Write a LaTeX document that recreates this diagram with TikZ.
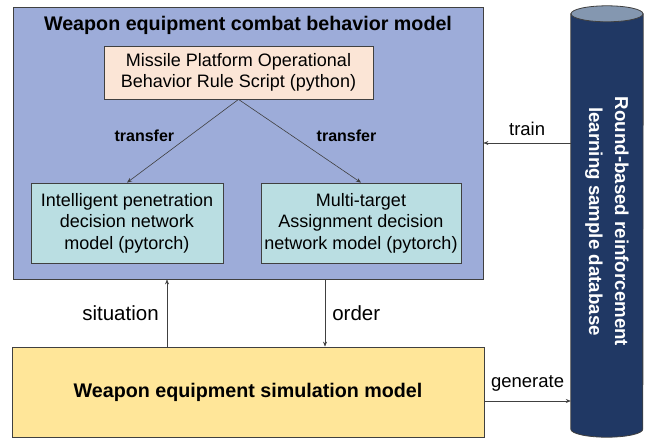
\documentclass[tikz,border=0pt]{standalone}
\usepackage{fontspec}
\setmainfont{Liberation Sans}
\usepackage{tikz}
\usetikzlibrary{arrows.meta,positioning,calc,backgrounds}

\definecolor{modelblue}{RGB}{157,172,217}
\definecolor{rulepeach}{RGB}{251,229,214}
\definecolor{netcyan}{RGB}{186,222,226}
\definecolor{simyellow}{RGB}{255,230,153}
\definecolor{dbnavy}{RGB}{32,56,100}
\definecolor{dbend}{RGB}{132,151,176}
\definecolor{edge}{RGB}{64,64,64}

\begin{document}
\begin{tikzpicture}[
  x=1pt,y=-1pt,
  font=\fontsize{18}{21.5}\selectfont,
  box/.style={rectangle,draw=edge,line width=0.8pt,align=center,inner sep=2pt},
  model/.style={box,fill=modelblue,minimum width=470pt,minimum height=272pt},
  rulebox/.style={box,fill=rulepeach,minimum width=269pt,minimum height=53pt},
  net/.style={box,fill=netcyan,minimum height=80pt},
  sim/.style={box,fill=simyellow,minimum width=472pt,minimum height=90pt,font=\fontsize{19.7}{24}\selectfont\bfseries},
  heading/.style={font=\fontsize{19.7}{24}\selectfont\bfseries,inner sep=0pt},
  dbtext/.style={rotate=-90,text=white,align=center,font=\fontsize{18.7}{26}\selectfont\bfseries},
  ar/.style={-{Stealth[length=5pt,width=4pt]},draw=edge,line width=0.6pt},
  lbl/.style={font=\fontsize{18.5}{22}\selectfont,inner sep=3pt},
  vlbl/.style={font=\fontsize{20.5}{24}\selectfont,inner sep=3pt},
  tlbl/.style={font=\fontsize{16}{20}\selectfont\bfseries,inner sep=3pt}
]
\useasboundingbox (0,0) rectangle (648,439);

\node[model] (behav) at (248,143) {};
\node[heading,below=9pt of behav.north] (title) {Weapon equipment combat behavior model};
\node[rulebox] (rule) at (238.5,72.5) {Missile Platform Operational\\ Behavior Rule Script (python)};
\node[net,minimum width=192pt] (pen) at (127,223) {Intelligent penetration\\ decision network\\ model (pytorch)};
\node[net,minimum width=200pt] (mta) at (361,223) {Multi-target\\ Assignment decision\\ network model (pytorch)};
\node[sim] (simu) at (248,392) {Weapon equipment simulation model};

% sample database drawn as a cylinder
\node[minimum width=72pt,minimum height=415pt,inner sep=0pt] (db) at (607,221.5) {};
\draw[draw=edge,fill=dbnavy,line width=0.8pt] (db.north west) -- (db.south west)
  arc[start angle=180,end angle=360,x radius=36pt,y radius=8pt] -- (db.north east) -- cycle;
\draw[draw=edge,fill=dbend,line width=0.8pt] (db.north) ellipse[x radius=36pt,y radius=8pt];
\node[dbtext] (dblabel) at (db.center) {Round-based reinforcement\\ learning sample database};

\draw[ar] (rule.south) -- node[tlbl,pos=0.44,left=12pt]{transfer} (pen.north);
\draw[ar] (rule.south) -- node[tlbl,pos=0.44,right=21pt]{transfer} (mta.north);
\draw[ar] ([xshift=-81pt]simu.north) -- node[vlbl,left=5pt]{situation} ([xshift=-81pt]simu.north |- behav.south);
\draw[ar] ([xshift=77pt]behav.south) -- node[vlbl,right=4pt]{order} ([xshift=77pt]behav.south |- simu.north);
\draw[ar] (db.west |- behav.east) -- node[lbl,above=4pt]{train} (behav.east);
\draw[ar] ([yshift=-9pt]simu.east) -- node[lbl,above=6pt]{generate} ([yshift=-9pt]simu.east -| db.west);
\end{tikzpicture}
\end{document}
